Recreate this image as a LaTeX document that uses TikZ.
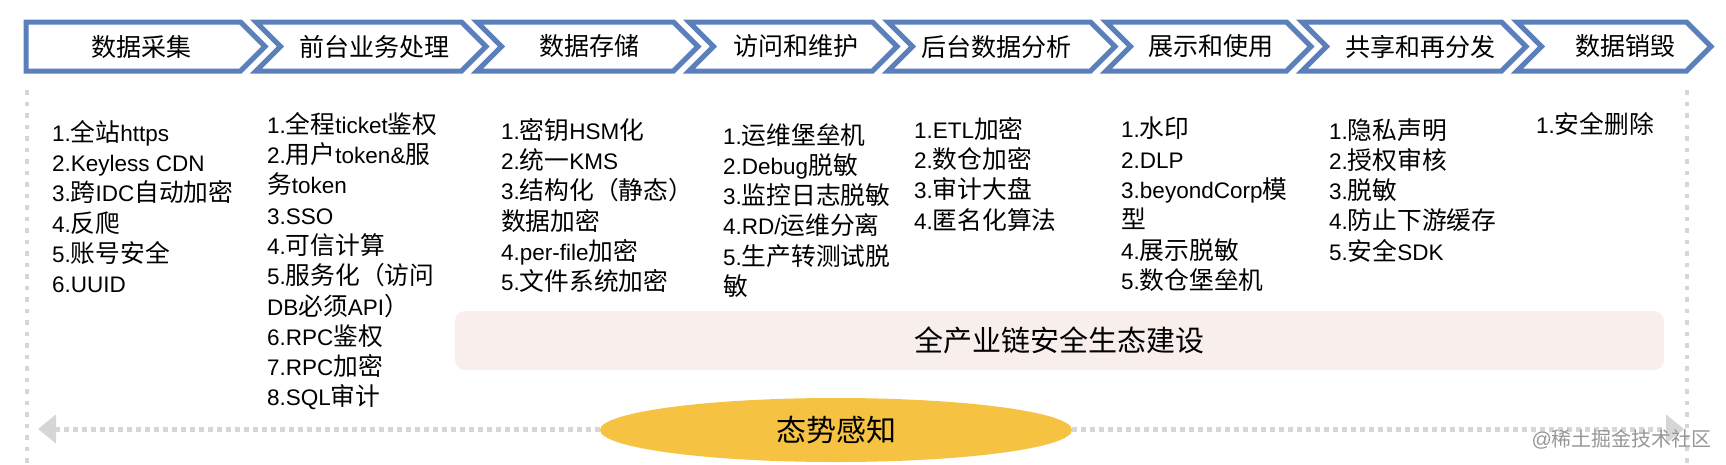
\documentclass[tikz,border=0pt]{standalone}
\usepackage{fontspec}
\setmainfont{Liberation Sans}
\newfontfamily\cjkfont{Noto Sans CJK SC}
\newfontfamily\cjklist[Scale=1.1]{Noto Sans CJK SC}
\usetikzlibrary{arrows.meta,shapes.geometric}
\XeTeXinterchartokenstate=1
\newXeTeXintercharclass\cjkclass
\newcount\cjkcnt
\cjkcnt="4E00
\loop
  \XeTeXcharclass\cjkcnt=\cjkclass
  \advance\cjkcnt by 1
\ifnum\cjkcnt<"A000 \repeat
\XeTeXcharclass"FF08=\cjkclass
\XeTeXcharclass"FF09=\cjkclass
\XeTeXinterchartoks 0 \cjkclass={\cjkfont}
\XeTeXinterchartoks 4095 \cjkclass={\cjkfont}
\XeTeXinterchartoks \cjkclass 0={\rmfamily}
\XeTeXinterchartoks \cjkclass 4095={\rmfamily}
\definecolor{chevblue}{RGB}{90,127,186}
\definecolor{dotgray}{RGB}{214,214,214}
\definecolor{pinkbg}{RGB}{248,239,237}
\definecolor{gold}{RGB}{245,194,66}
\definecolor{wmgray}{RGB}{150,150,150}
\tikzset{
  chev/.style={draw=chevblue, line width=5pt, line join=miter, fill=white},
  chevlab/.style={inner sep=0pt, font=\fontsize{25}{30}\selectfont},
  listtxt/.style={anchor=north west, inner sep=0pt, align=left, font=\let\cjkfont\cjklist\fontsize{22.5}{30.3}\selectfont},
  border/.style={draw=dotgray, line width=4.5pt, dash pattern=on 4.5pt off 7pt},
}
\begin{document}
\begin{tikzpicture}[x=1pt,y=-1pt]
\useasboundingbox (0,0) rectangle (1726,464);
% dotted frame sides
\coordinate (lt) at (27,90);
\coordinate (lb) at (27,464);
\coordinate (rt) at (1687,90);
\coordinate (rb) at (1687,464);
\draw[border] (lt) -- (lb);
\draw[border] (rt) -- (rb);
% chevrons
\foreach \L/\T/\lab/\cx [count=\i] in {26/265/数据采集/141, 256/486/前台业务处理/374, 477/698/数据存储/589, 689/897/访问和维护/796, 888/1115/后台数据分析/996, 1106/1311/展示和使用/1211, 1302/1526/共享和再分发/1420, 1517/1711/数据销毁/1625}{
  \pgfmathsetmacro\n{\i==1 ? 0 : 24.5}
  \draw[chev] (\L,22) -- (\T-24.5,22) -- (\T,46.5) -- (\T-24.5,71) -- (\L,71) -- (\L+\n,46.5) -- cycle;
  \node[chevlab] (c\i) at (\cx,46.5) {\lab};
}
% lists
\node[listtxt] (l1) at (52,120) {1.全站https\\2.Keyless CDN\\3.跨IDC自动加密\\4.反爬\\5.账号安全\\6.UUID};
\node[listtxt] (l2) at (267,112) {1.全程ticket鉴权\\2.用户token\&服\\务token\\3.SSO\\4.可信计算\\5.服务化（访问\\DB必须API）\\6.RPC鉴权\\7.RPC加密\\8.SQL审计};
\node[listtxt] (l3) at (501,118) {1.密钥HSM化\\2.统一KMS\\3.结构化（静态）\\数据加密\\4.per-file加密\\5.文件系统加密};
\node[listtxt] (l4) at (723,123) {1.运维堡垒机\\2.Debug脱敏\\3.监控日志脱敏\\4.RD/运维分离\\5.生产转测试脱\\敏};
\node[listtxt] (l5) at (914,117) {1.ETL加密\\2.数仓加密\\3.审计大盘\\4.匿名化算法};
\node[listtxt] (l6) at (1121,117) {1.水印\\2.DLP\\3.beyondCorp模\\型\\4.展示脱敏\\5.数仓堡垒机};
\node[listtxt] (l7) at (1329,118) {1.隐私声明\\2.授权审核\\3.脱敏\\4.防止下游缓存\\5.安全SDK};
\node[listtxt] (l8) at (1536,112) {1.安全删除};
% ecosystem band
\node[draw=none, fill=pinkbg, rounded corners=10pt, minimum width=1209pt, minimum height=59pt, inner sep=0pt, font=\fontsize{29}{34}\selectfont] (eco) at (1059.5,340.5) {全产业链安全生态建设};
% bottom arrow
\coordinate (al) at (38,429);
\coordinate (ar) at (1684,429);
\draw[draw=dotgray, line width=5pt, dash pattern=on 5pt off 4pt, {Triangle[length=18pt,width=28pt,fill=dotgray]}-{Triangle[length=18pt,width=28pt,fill=dotgray]}] (al) -- (ar);
\node[ellipse, fill=gold, minimum width=472pt, minimum height=64pt, inner sep=0pt, font=\fontsize{30}{34}\selectfont] (sa) at (836,430) {态势感知};
% watermark
\node[anchor=east, inner sep=0pt, text=wmgray, font=\fontsize{20}{24}\selectfont] (wm) at (1712,439) {@稀土掘金技术社区};
\end{tikzpicture}
\end{document}
